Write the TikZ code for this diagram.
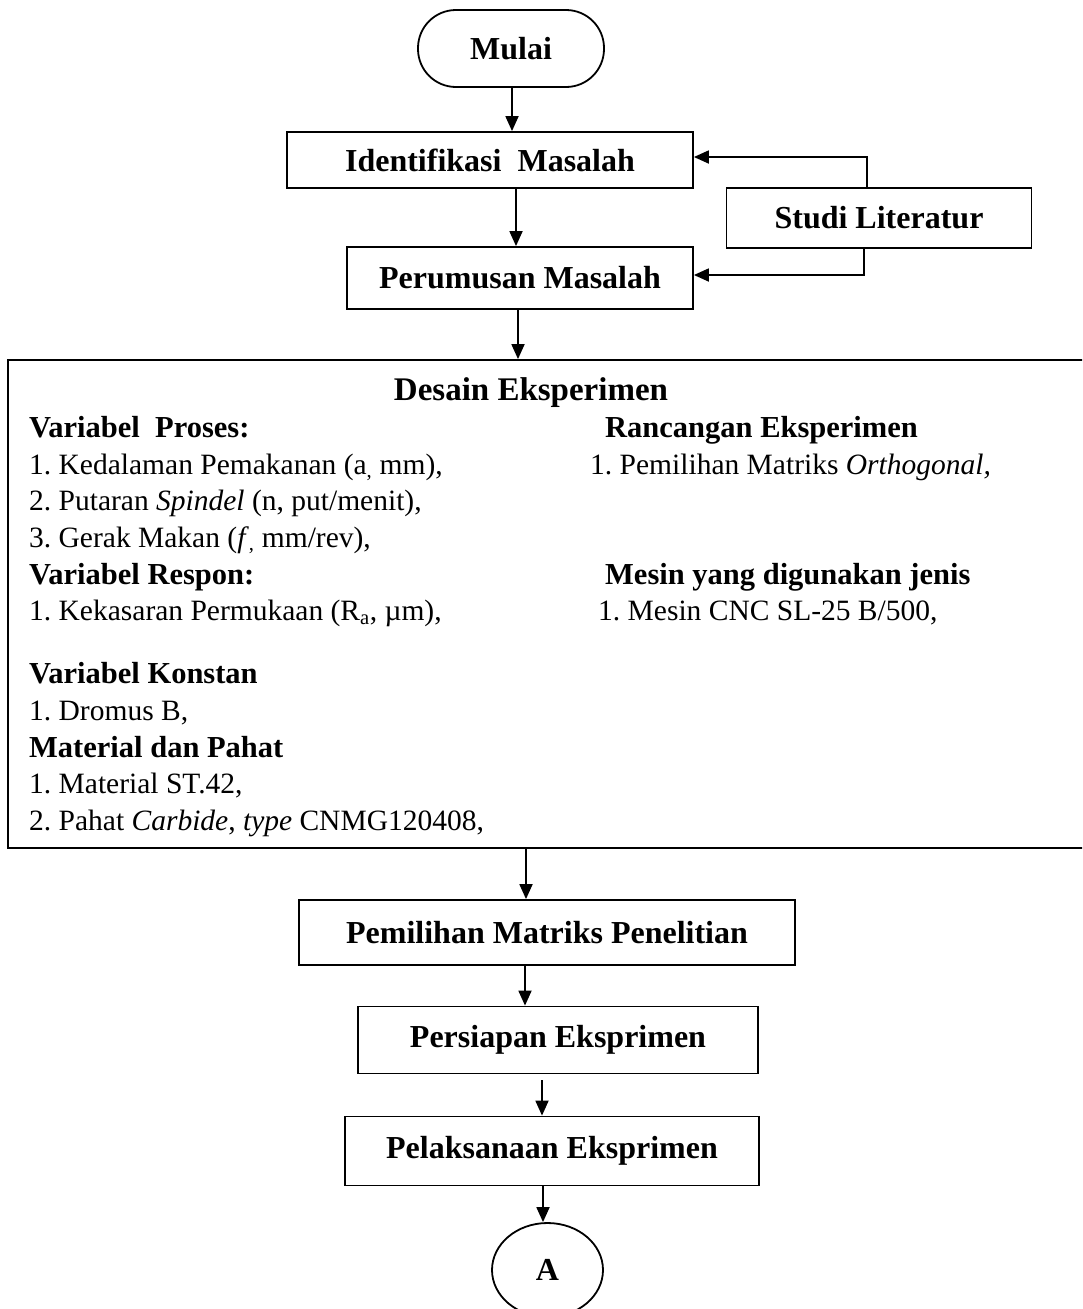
\documentclass[tikz,border=0pt]{standalone}
\usepackage{fontspec}
\setmainfont{Liberation Serif}
\usetikzlibrary{arrows.meta,shapes.geometric}
\tikzset{
  box/.style={draw, line width=1.8pt, rectangle, inner sep=0pt, font=\fontsize{32}{36}\selectfont\bfseries},
  arr/.style={line width=1.8pt, -{Triangle[length=15pt,width=13pt]}},
  body/.style={anchor=base west, inner sep=0pt, font=\fontsize{29.5}{32}\selectfont},
  head/.style={anchor=base west, inner sep=0pt, font=\fontsize{30.5}{34}\selectfont\bfseries},
}
\begin{document}
\frenchspacing
\begin{tikzpicture}[x=1pt,y=-1pt]
\useasboundingbox (0,0) rectangle (1082,1309);
\clip (0,0) rectangle (1082,1309);
\fill[white] (0,0) rectangle (1082,1309);

% nodes
\node[box, rounded corners=38pt, minimum width=186pt, minimum height=77pt] (mulai) at (511,48.5) {Mulai};
\node[box, minimum width=406pt, minimum height=56pt] (ident) at (490,160) {Identifikasi\ \ Masalah};
\node[box, minimum width=346pt, minimum height=62pt] (perum) at (520,278) {Perumusan Masalah};
\node[box, minimum width=305pt, minimum height=60pt] (studi) at (879,218) {Studi Literatur};
\node[draw, line width=1.8pt, rectangle, inner sep=0pt, minimum width=1088pt, minimum height=488pt] (desain) at (552,604) {};
\node[box, minimum width=496pt, minimum height=65pt] (pemil) at (547,932.5) {Pemilihan Matriks Penelitian};
\node[box, minimum width=400pt, minimum height=67pt] (persi) at (558,1040) {Persiapan Eksprimen};
\node[box, minimum width=414pt, minimum height=69pt] (pelak) at (552,1151) {Pelaksanaan Eksprimen};
\node[box, ellipse, minimum width=111pt, minimum height=94pt] (A) at (547.5,1270) {A};

% text inside Desain box
\node[anchor=base, inner sep=0pt, font=\fontsize{33}{36}\selectfont\bfseries] (t0) at (531,400) {Desain Eksperimen};
\node[head] (t1) at (29,437) {Variabel\ \ Proses:};
\node[body] (t2) at (29,474) {1. Kedalaman Pemakanan (a\textsubscript{,} mm),};
\node[body] (t3) at (29,510.5) {2. Putaran \textit{Spindel} (n, put/menit),};
\node[body] (t4) at (29,547) {3. Gerak Makan (\textit{f}\textsubscript{,} mm/rev),};
\node[head] (t5) at (29,584) {Variabel Respon:};
\node[body] (t6) at (29,620.5) {1. Kekasaran Permukaan (R\textsubscript{a}, µm),};
\node[head] (t7) at (29,683) {Variabel Konstan};
\node[body] (t8) at (29,720) {1. Dromus B,};
\node[head] (t9) at (29,757) {Material dan Pahat};
\node[body] (t10) at (29,793.5) {1. Material ST.42,};
\node[body] (t11) at (29,830) {2. Pahat \textit{Carbide}, \textit{type} CNMG120408,};
\node[head] (r1) at (605,437) {Rancangan Eksperimen};
\node[body] (r2) at (590,474) {1. Pemilihan Matriks \textit{Orthogonal,}};
\node[head] (r3) at (605,584) {Mesin yang digunakan jenis};
\node[body] (r4) at (598,620.5) {1. Mesin CNC SL-25 B/500,};

% connector coordinates
\coordinate (x1) at (512,0);
\coordinate (x2) at (516,0);
\coordinate (x3) at (518,0);
\coordinate (x4) at (526,0);
\coordinate (x5) at (525,0);
\coordinate (x6) at (542,0);
\coordinate (y6) at (0,1080);
\coordinate (x7) at (543,0);
\coordinate (k1) at (867,157);
\coordinate (k2) at (864,275);

% connectors
\draw[arr] (mulai.south -| x1) -- (ident.north -| x1);
\draw[arr] (ident.south -| x2) -- (perum.north -| x2);
\draw[arr] (perum.south -| x3) -- (desain.north -| x3);
\draw[arr] (desain.south -| x4) -- (pemil.north -| x4);
\draw[arr] (pemil.south -| x5) -- (persi.north -| x5);
\draw[arr] (x6 |- y6) -- (pelak.north -| x6);
\draw[arr] (pelak.south -| x7) -- (A.north -| x7);
\draw[arr] (studi.north -| k1) -- (k1) -- (ident.east |- k1);
\draw[arr] (studi.south -| k2) -- (k2) -- (perum.east |- k2);
\end{tikzpicture}
\end{document}
